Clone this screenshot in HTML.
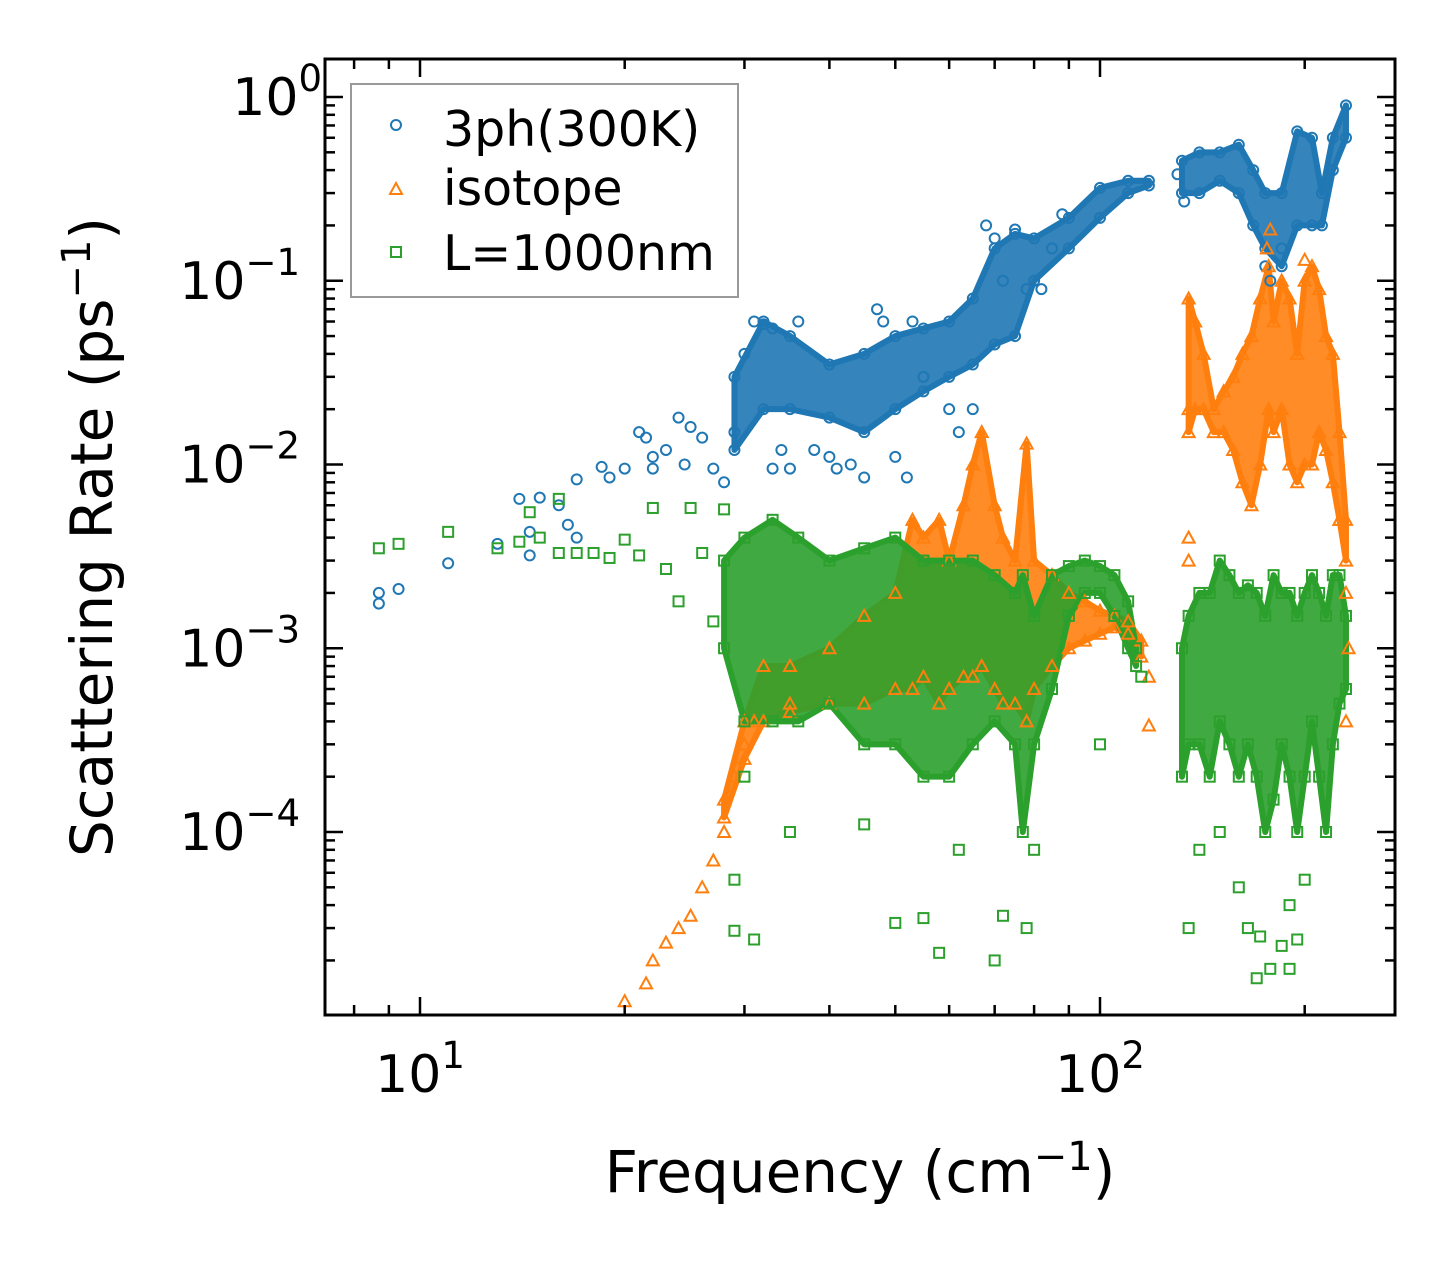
<!DOCTYPE html>
<html><head><meta charset="utf-8"><style>
body{margin:0;background:#fff}
svg text{font-family:"DejaVu Sans","Liberation Sans",sans-serif;fill:#000}
</style></head><body>
<svg id="chart" width="1455" height="1265" viewBox="0 0 1455 1265" xmlns="http://www.w3.org/2000/svg">
<g id="bands"></g>
<g id="marks"></g>
<g id="axes"></g>
<rect x="325" y="59" width="1070" height="956" fill="none" stroke="#000" stroke-width="3"/>
<g>
<rect x="351" y="84" width="387" height="213" fill="#fff" fill-opacity="0.8" stroke="#999" stroke-width="2"/>
<circle cx="396" cy="125" r="5" fill="none" stroke="#1f77b4" stroke-width="2"/>
<text x="443" y="146" font-size="49">3ph(300K)</text>
<path d="M396 183 L402 194 L390 194 Z" fill="none" stroke="#ff7f0e" stroke-width="2"/>
<text x="443" y="205" font-size="49">isotope</text>
<rect x="391" y="247" width="10" height="10" fill="none" stroke="#2ca02c" stroke-width="2"/>
<text x="443" y="270" font-size="49">L=1000nm</text>
</g>
<text x="860" y="1192" font-size="58" text-anchor="middle">Frequency (cm<tspan dy="-22" font-size="40">−1</tspan><tspan dy="22">)</tspan></text>
<text transform="translate(112,537) rotate(-90)" font-size="58" text-anchor="middle">Scattering Rate (ps<tspan dy="-22" font-size="40">−1</tspan><tspan dy="22">)</tspan></text>
</svg>
<script>
const blueBandFreq=[29,32,35,40,45,50,55,60,65,70,75,80,90,100,110,118];
const blueBandLo=[0.012,0.02,0.02,0.018,0.015,0.02,0.025,0.03,0.035,0.045,0.05,0.1,0.15,0.22,0.3,0.33];
const blueBandHi=[0.03,0.06,0.05,0.035,0.04,0.05,0.055,0.06,0.08,0.15,0.18,0.17,0.22,0.32,0.35,0.35];
const blueBand2Freq=[132,140,150,160,168,175,185,195,205,212,220,230];
const blueBand2Lo=[0.3,0.3,0.35,0.3,0.2,0.15,0.12,0.2,0.2,0.2,0.4,0.6];
const blueBand2Hi=[0.45,0.5,0.5,0.55,0.4,0.3,0.3,0.65,0.6,0.3,0.6,0.9];
const bluePts=[[8.7,2e-3],[8.7,1.75e-3],[9.3,2.1e-3],[11,2.9e-3],[13,3.7e-3],[14,6.5e-3],[14.5,4.3e-3],[14.5,3.2e-3],[15,6.6e-3],[16,6e-3],[16.5,4.7e-3],[17,8.3e-3],[17,4e-3],[18.5,9.7e-3],[19,8.5e-3],[20,9.5e-3],[21,0.015],[21.5,0.014],[22,0.011],[22,0.0095],[23,0.012],[24,0.018],[24.5,0.01],[25,0.016],[26,0.014],[27,0.0095],[28,0.008],[29,0.015],[30,0.04],[31,0.06],[32,0.058],[33,0.055],[33,0.0095],[34,0.012],[35,0.0095],[36,0.06],[38,0.012],[40,0.011],[41,0.0095],[43,0.01],[45,0.0085],[47,0.07],[48,0.06],[50,0.011],[52,0.0085],[53,0.06],[55,0.03],[60,0.02],[62,0.015],[65,0.02],[68,0.2],[70,0.17],[72,0.1],[75,0.19],[78,0.09],[82,0.09],[85,0.15],[88,0.23],[130,0.38],[133,0.27],[175,0.12],[178,0.1],[185,0.15]];
const orBandFreq=[28,30,32,35,40,45,50,53,55,58,60,63,65,67,70,72,75,78,80,85,90,95,100,105,110,115];
const orBandLo=[1.2e-4,2.5e-4,4e-4,4.5e-4,5e-4,5e-4,6e-4,6e-4,7e-4,5e-4,6e-4,7e-4,7e-4,8e-4,6e-4,5e-4,5e-4,4e-4,6e-4,8e-4,1e-3,1.1e-3,1.2e-3,1.3e-3,1.2e-3,9e-4];
const orBandHi=[1.5e-4,4e-4,8e-4,8e-4,1e-3,1.5e-3,2e-3,5e-3,4e-3,5e-3,3e-3,6e-3,0.01,0.015,0.006,0.004,0.003,0.013,0.003,2.5e-3,2e-3,1.8e-3,1.6e-3,1.5e-3,1.4e-3,1.1e-3];
const orBand2Freq=[135,138,142,147,152,157,162,167,172,177,180,185,190,195,200,205,210,215,220,225,230];
const orBand2Lo=[0.015,0.02,0.02,0.015,0.015,0.012,0.008,0.006,0.01,0.02,0.015,0.02,0.01,0.008,0.01,0.01,0.015,0.012,0.008,0.005,0.003];
const orBand2Hi=[0.08,0.06,0.04,0.02,0.025,0.03,0.04,0.05,0.08,0.12,0.06,0.1,0.08,0.04,0.1,0.12,0.09,0.05,0.04,0.015,0.005];
const orPts=[[20,1.2e-5],[21.5,1.5e-5],[22,2e-5],[23,2.5e-5],[24,3e-5],[25,3.5e-5],[26,5e-5],[27,7e-5],[28,1e-4],[29,2e-4],[30,3e-4],[31,4e-4],[35,5e-4],[135,0.02],[135,0.004],[135,0.003],[178,0.19],[176,0.15],[200,0.13],[225,0.005],[230,0.002],[232,1e-3],[230,4e-4],[118,3.8e-4],[118,7e-4]];
const grBandFreq=[28,30,33,36,40,45,50,55,60,65,70,75,77,80,85,90,95,100,105,110,113];
const grBandLo=[1e-3,4e-4,4e-4,4e-4,5e-4,3e-4,3e-4,2e-4,2e-4,3e-4,4e-4,3e-4,1e-4,3e-4,6e-4,1.5e-3,2e-3,2e-3,1.5e-3,1e-3,8e-4];
const grBandHi=[3e-3,4e-3,5e-3,4e-3,3e-3,3.5e-3,4e-3,3e-3,3e-3,3e-3,2.5e-3,2e-3,2.5e-3,1.5e-3,2.5e-3,2.8e-3,3e-3,2.8e-3,2.5e-3,1.8e-3,1e-3];
const grBand2Freq=[132,135,140,145,150,155,160,165,170,175,180,185,190,195,200,205,210,215,220,225,230];
const grBand2Lo=[2e-4,3e-4,3e-4,2e-4,4e-4,3e-4,2e-4,3e-4,2e-4,1e-4,1.5e-4,3e-4,2e-4,1e-4,2e-4,4e-4,2e-4,1e-4,3e-4,5e-4,6e-4];
const grBand2Hi=[1e-3,1.5e-3,2e-3,2e-3,3e-3,2.5e-3,2e-3,2.2e-3,2e-3,1.5e-3,2.5e-3,2e-3,2e-3,1.5e-3,2e-3,2.5e-3,2e-3,1.5e-3,2.5e-3,2.5e-3,1.5e-3];
const grPts=[[8.7,3.5e-3],[9.3,3.7e-3],[11,4.3e-3],[13,3.5e-3],[14,3.8e-3],[14.5,5.5e-3],[15,4e-3],[16,6.5e-3],[16,3.3e-3],[17,3.3e-3],[18,3.3e-3],[19,3.1e-3],[20,3.9e-3],[21,3.2e-3],[22,5.8e-3],[23,2.7e-3],[24,1.8e-3],[25,5.8e-3],[26,3.3e-3],[27,1.4e-3],[28,5.7e-3],[29,5.5e-5],[29,2.9e-5],[30,2e-4],[31,2.6e-5],[35,1e-4],[45,1.1e-4],[50,3.2e-5],[55,3.4e-5],[58,2.2e-5],[62,8e-5],[70,2e-5],[72,3.5e-5],[78,3e-5],[80,8e-5],[100,3e-4],[115,7e-4],[135,3e-5],[140,8e-5],[150,1e-4],[160,5e-5],[165,3e-5],[170,1.6e-5],[172,2.7e-5],[178,1.8e-5],[185,2.4e-5],[190,1.8e-5],[195,2.6e-5],[190,4e-5],[200,5.5e-5]];
const xMajor=[10,100];
const xMinor=[8,9,20,30,40,50,60,70,80,90,200];
const yMajorExp=[0,-1,-2,-3,-4];

const NS='http://www.w3.org/2000/svg';
const X=f=>420+680*Math.log10(f/10);
const Y=v=>97-183.75*Math.log10(v);
const bands=document.getElementById('bands'),marks=document.getElementById('marks'),axes=document.getElementById('axes');
function mk(tag,attrs,parent){const e=document.createElementNS(NS,tag);for(const k in attrs)e.setAttribute(k,attrs[k]);parent.appendChild(e);return e;}
function band(fr,lo,hi,color,name){
  let d='M'+fr.map((f,i)=>X(f)+' '+Y(hi[i])).join(' L');
  for(let i=fr.length-1;i>=0;i--)d+=' L'+X(fr[i])+' '+Y(lo[i]);
  const p=mk('path',{d:d+'Z',fill:color,'fill-opacity':'0.9',stroke:color,'stroke-width':'6','stroke-linejoin':'round'},bands);
  
  
}
function marker(kind,f,v,color,name){
  const x=X(f),y=Y(v);let e;
  if(kind==='o')e=mk('circle',{cx:x,cy:y,r:5,fill:'none',stroke:color,'stroke-width':2},marks);
  else if(kind==='^')e=mk('path',{d:`M${x} ${y-6} L${x+6} ${y+5} L${x-6} ${y+5}Z`,fill:'none',stroke:color,'stroke-width':2},marks);
  else e=mk('rect',{x:x-5,y:y-5,width:10,height:10,fill:'none',stroke:color,'stroke-width':2},marks);
  
  
}
function series(kind,color,pts,bs,name){
  bs.forEach(b=>{band(b[0],b[1],b[2],color,name+'-dense-region');b[0].forEach((f,i)=>{marker(kind,f,b[1][i],color,name+'-point');marker(kind,f,b[2][i],color,name+'-point');});});
  pts.forEach(p=>marker(kind,p[0],p[1],color,name+'-point'));
}
series('o','#1f77b4',bluePts,[[blueBandFreq,blueBandLo,blueBandHi],[blueBand2Freq,blueBand2Lo,blueBand2Hi]],'3ph');
series('^','#ff7f0e',orPts,[[orBandFreq,orBandLo,orBandHi],[orBand2Freq,orBand2Lo,orBand2Hi]],'isotope');
series('s','#2ca02c',grPts,[[grBandFreq,grBandLo,grBandHi],[grBand2Freq,grBand2Lo,grBand2Hi]],'l1000nm');

function tick(x1,y1,x2,y2,name){const t=mk('line',{x1,y1,x2,y2,stroke:'#000','stroke-width':2.5},axes);}
xMajor.forEach(f=>{const x=X(f);tick(x,1015,x,997,'x-major-tick');tick(x,59,x,77,'x-major-tick-top');
  const t=mk('text',{x:x,y:1092,'font-size':52,'text-anchor':'middle'},axes);t.innerHTML='10<tspan dy="-24" font-size="37">'+Math.log10(f)+'</tspan>';
  });
xMinor.forEach(f=>{const x=X(f);tick(x,1015,x,1005,'x-minor-tick');tick(x,59,x,69,'x-minor-tick-top');});
for(let e=-5;e<=0;e++){for(let m=1;m<10;m++){const v=m*Math.pow(10,e),y=Y(v);if(y<59||y>1015)continue;
  if(m===1){tick(325,y,343,y,'y-major-tick');tick(1395,y,1377,y,'y-major-tick-right');}
  else{tick(325,y,335,y,'y-minor-tick');tick(1395,y,1385,y,'y-minor-tick-right');}}}
yMajorExp.forEach(e=>{const y=Y(Math.pow(10,e));const t=mk('text',{x:e===0?322:300,y:y+18,'font-size':52,'text-anchor':'end'},axes);
  t.innerHTML='10<tspan dy="-24" font-size="37">'+(e<0?'−'+(-e):e)+'</tspan>';
  });
</script>
</body></html>
